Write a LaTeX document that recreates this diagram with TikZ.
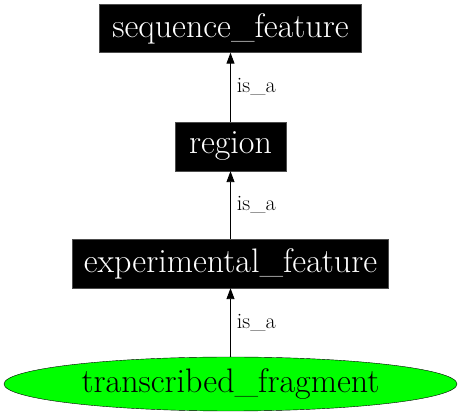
\documentclass[tikz,border=0pt]{standalone}
\usetikzlibrary{shapes.geometric,arrows.meta}
\begin{document}
\begin{tikzpicture}[x=1pt,y=-1pt,
  termbox/.style={rectangle,fill=black,draw=black!70,text=white,inner sep=0pt,
    font=\fontsize{34}{38}\selectfont},
  leafnode/.style={ellipse,fill=green,draw=black,inner sep=0pt,
    font=\fontsize{34}{38}\selectfont},
  isa/.style={draw=black,line width=0.9pt,-{Triangle[length=11pt,width=8pt]}},
  elabel/.style={font=\fontsize{22}{24}\selectfont,anchor=west,inner sep=0pt,xshift=6pt}]
\useasboundingbox (0,0) rectangle (461,419);
\node[termbox,minimum width=262,minimum height=48] (sf) at (230.5,28.5) {sequence\_feature};
\node[termbox,minimum width=111,minimum height=49] (rg) at (230.5,146.5) {region};
\node[termbox,minimum width=316,minimum height=49] (ef) at (230.5,263.5) {experimental\_feature};
\node[leafnode,minimum width=453,minimum height=54] (tf) at (230.5,384) {transcribed\_fragment};
\draw[isa] (rg) -- node[elabel] {is\_a} (sf);
\draw[isa] (ef) -- node[elabel] {is\_a} (rg);
\draw[isa] (tf) -- node[elabel] {is\_a} (ef);
\end{tikzpicture}
\end{document}
